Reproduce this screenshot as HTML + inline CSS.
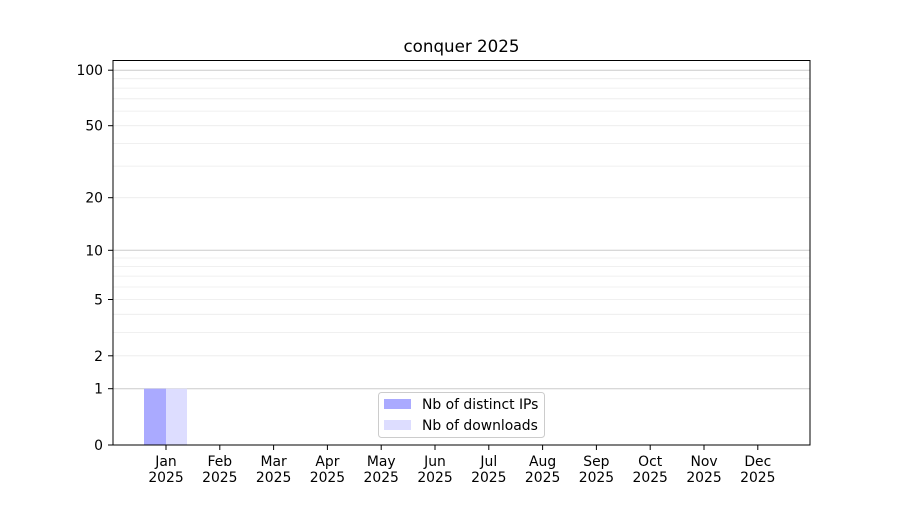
<!DOCTYPE html><html><head><style>body{margin:0;background:#fff}svg{font-family:"DejaVu Sans","Liberation Sans",sans-serif}</style></head><body>
<svg width="900" height="500" xmlns="http://www.w3.org/2000/svg">
<rect width="900" height="500" fill="#fff"/>
<g stroke="#ebebeb" stroke-width="0.8">
<line x1="113" x2="810" y1="355.8" y2="355.8"/><line x1="113" x2="810" y1="332.4" y2="332.4"/><line x1="113" x2="810" y1="314.3" y2="314.3"/><line x1="113" x2="810" y1="299.5" y2="299.5"/><line x1="113" x2="810" y1="287" y2="287"/><line x1="113" x2="810" y1="276.1" y2="276.1"/><line x1="113" x2="810" y1="266.6" y2="266.6"/><line x1="113" x2="810" y1="258" y2="258"/>
<line x1="113" x2="810" y1="197.7" y2="197.7"/><line x1="113" x2="810" y1="166.1" y2="166.1"/><line x1="113" x2="810" y1="143.4" y2="143.4"/><line x1="113" x2="810" y1="125.7" y2="125.7"/><line x1="113" x2="810" y1="111.1" y2="111.1"/><line x1="113" x2="810" y1="98.8" y2="98.8"/><line x1="113" x2="810" y1="88.1" y2="88.1"/><line x1="113" x2="810" y1="78.7" y2="78.7"/>
</g>
<g stroke="#cccccc" stroke-width="1">
<line x1="113" x2="810" y1="388.7" y2="388.7"/><line x1="113" x2="810" y1="250.3" y2="250.3"/><line x1="113" x2="810" y1="70.2" y2="70.2"/>
</g>
<rect x="144" y="388.7" width="22" height="56.3" fill="#aaaaff"/>
<rect x="166" y="388.7" width="21" height="56.3" fill="#ddddff"/>
<rect x="113" y="60.5" width="697" height="384.5" fill="none" stroke="#000" stroke-width="1"/>
<text x="461.5" y="52" font-size="16.7" text-anchor="middle">conquer 2025</text>
<g font-size="13.9" text-anchor="end">
<text x="103" y="450">0</text><text x="103" y="393.7">1</text><text x="103" y="360.8">2</text><text x="103" y="304.5">5</text><text x="103" y="255.3">10</text><text x="103" y="202.7">20</text><text x="103" y="130.7">50</text><text x="103" y="75.2">100</text>
</g>
<g stroke="#000"><line x1="108" x2="113" y1="445" y2="445"/><line x1="108" x2="113" y1="388.7" y2="388.7"/><line x1="108" x2="113" y1="355.8" y2="355.8"/><line x1="108" x2="113" y1="299.5" y2="299.5"/><line x1="108" x2="113" y1="250.3" y2="250.3"/><line x1="108" x2="113" y1="197.7" y2="197.7"/><line x1="108" x2="113" y1="125.7" y2="125.7"/><line x1="108" x2="113" y1="70.2" y2="70.2"/></g>
<g font-size="13.9" text-anchor="middle">
<g transform="translate(166,0)"><line y1="445" y2="450" stroke="#000"/><text y="466">Jan</text><text y="482">2025</text></g>
<g transform="translate(219.8,0)"><line y1="445" y2="450" stroke="#000"/><text y="466">Feb</text><text y="482">2025</text></g>
<g transform="translate(273.6,0)"><line y1="445" y2="450" stroke="#000"/><text y="466">Mar</text><text y="482">2025</text></g>
<g transform="translate(327.4,0)"><line y1="445" y2="450" stroke="#000"/><text y="466">Apr</text><text y="482">2025</text></g>
<g transform="translate(381.2,0)"><line y1="445" y2="450" stroke="#000"/><text y="466">May</text><text y="482">2025</text></g>
<g transform="translate(435,0)"><line y1="445" y2="450" stroke="#000"/><text y="466">Jun</text><text y="482">2025</text></g>
<g transform="translate(488.8,0)"><line y1="445" y2="450" stroke="#000"/><text y="466">Jul</text><text y="482">2025</text></g>
<g transform="translate(542.6,0)"><line y1="445" y2="450" stroke="#000"/><text y="466">Aug</text><text y="482">2025</text></g>
<g transform="translate(596.4,0)"><line y1="445" y2="450" stroke="#000"/><text y="466">Sep</text><text y="482">2025</text></g>
<g transform="translate(650.2,0)"><line y1="445" y2="450" stroke="#000"/><text y="466">Oct</text><text y="482">2025</text></g>
<g transform="translate(704,0)"><line y1="445" y2="450" stroke="#000"/><text y="466">Nov</text><text y="482">2025</text></g>
<g transform="translate(757.8,0)"><line y1="445" y2="450" stroke="#000"/><text y="466">Dec</text><text y="482">2025</text></g>
</g>
<rect x="378.5" y="392.5" width="166" height="45" rx="3" fill="#fff" fill-opacity="0.8" stroke="#ccc"/>
<rect x="384" y="399" width="27" height="10" fill="#aaaaff"/>
<rect x="384" y="420" width="27" height="10" fill="#ddddff"/>
<text x="422" y="409" font-size="13.9">Nb of distinct IPs</text>
<text x="422" y="430" font-size="13.9">Nb of downloads</text>
</svg>
</body></html>
